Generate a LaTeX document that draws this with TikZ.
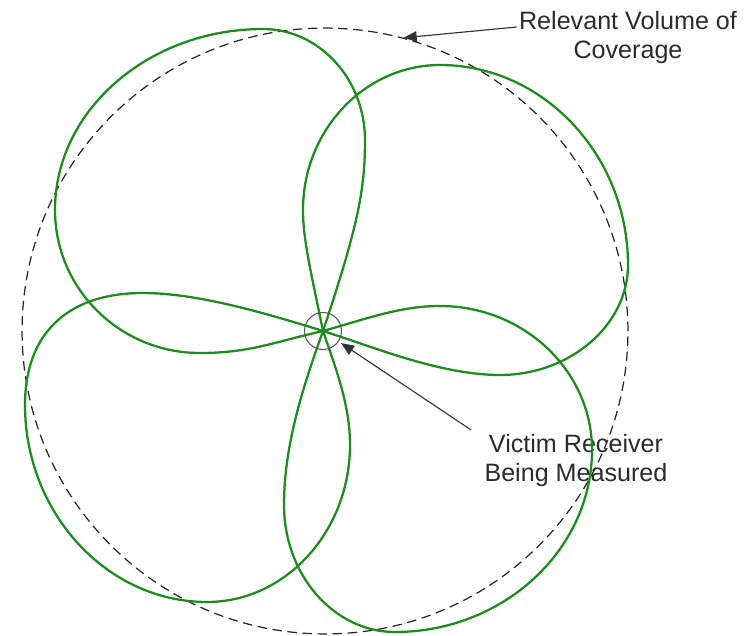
\documentclass[tikz,border=0pt]{standalone}
\usepackage{fontspec}
\setmainfont{Liberation Sans}
\usetikzlibrary{arrows.meta}
\definecolor{lobegreen}{HTML}{1E8C1E}
\definecolor{textgray}{HTML}{2B2B2B}

\begin{document}
\begin{tikzpicture}[x=0.02cm,y=-0.02cm,>={Triangle[length=7.5pt,width=6pt]},
  lobe/.style={lobegreen,line width=1.3pt},
  covcircle/.style={circle,draw=black!85,dash pattern=on 5.4pt off 3.2pt,line width=0.7pt,minimum size=12.12cm,inner sep=0pt},
  rxcircle/.style={circle,draw=black!65,line width=0.6pt,minimum size=0.74cm,inner sep=0pt},
  note/.style={font=\fontsize{14.3}{16.5}\selectfont,text=textgray,align=center,inner sep=0pt},
  pointer/.style={->,draw=black!80,line width=0.65pt}]
\useasboundingbox (0,0) rectangle (755,636);
\node[covcircle] (cov) at (325,331) {};
\coordinate (o) at (323,331);
\node[note,anchor=north] (rvc) at (628,11) {Relevant Volume of\\Coverage};
\node[note,anchor=north] (vr) at (576,434) {Victim Receiver\\Being Measured};
% the four lobes of the antenna pattern
\draw[lobe] (o) .. controls (358,226) and (365,190) .. (365,140)
  .. controls (365,79) and (319,29) .. (263,29)
  .. controls (149,29) and (55,110) .. (55,210)
  .. controls (55,289) and (120,353) .. (200,353)
  .. controls (250,353) and (274,342) .. (o);
\draw[lobe] (o) .. controls (311,272) and (303,240) .. (303,210)
  .. controls (303,130) and (365,65) .. (440,65)
  .. controls (543,65) and (628,155) .. (628,265)
  .. controls (628,325) and (570,375) .. (500,375)
  .. controls (440,375) and (371,346) .. (o);
\draw[lobe] (o) .. controls (366,319) and (400,306) .. (440,306)
  .. controls (524,306) and (592,371) .. (592,450)
  .. controls (592,550) and (503,632) .. (395,632)
  .. controls (334,632) and (284,575) .. (284,505)
  .. controls (284,445) and (303,387) .. (o);
\draw[lobe] (o) .. controls (256,310) and (193,293) .. (143,293)
  .. controls (68,293) and (25,333) .. (25,405)
  .. controls (25,513) and (107,602) .. (207,602)
  .. controls (286,602) and (350,531) .. (350,445)
  .. controls (350,405) and (336,369) .. (o);
\node[rxcircle] (rx) at (o) {};
\draw[pointer] ([shift={(-2,16)}]rvc.north west) -- (cov.75);
\draw[pointer,shorten >=1.5pt] ([shift={(-13,-4)}]vr.north west) -- (rx);
\end{tikzpicture}
\end{document}
